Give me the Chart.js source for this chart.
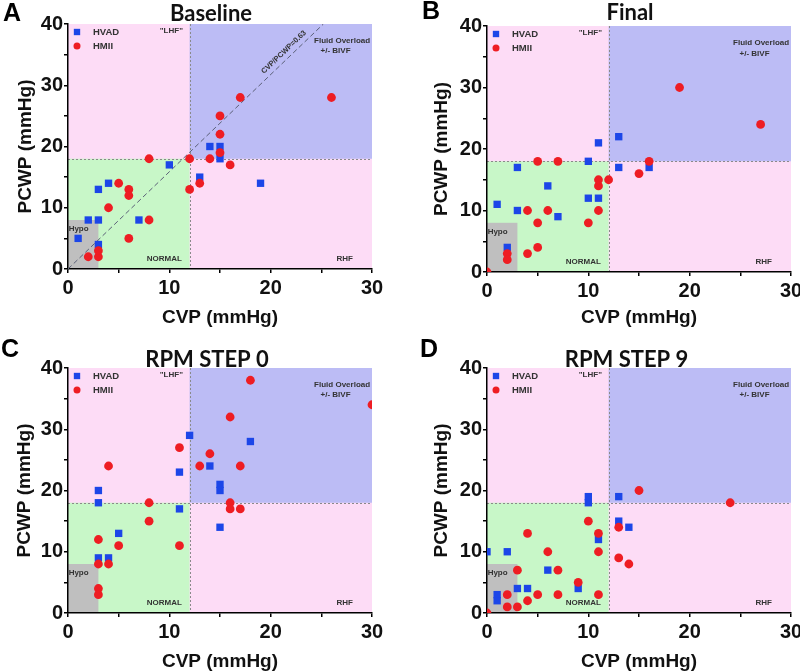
<!DOCTYPE html>
<html>
<head>
<meta charset="utf-8">
<script src="https://cdn.jsdelivr.net/npm/chart.js@4.4.1/dist/chart.umd.min.js"></script>
<style>
  html, body { margin: 0; padding: 0; background: #fff; }
  #wrap { position: relative; width: 800px; height: 672px; overflow: hidden; }
  #wrap canvas { position: absolute; }
</style>
</head>
<body>
<div id="wrap">
  <canvas id="panelA" width="400" height="336" style="left:0;top:0"></canvas>
  <canvas id="panelB" width="400" height="336" style="left:400px;top:0"></canvas>
  <canvas id="panelC" width="400" height="336" style="left:0;top:336px"></canvas>
  <canvas id="panelD" width="400" height="336" style="left:400px;top:336px"></canvas>
</div>
<script>
// [CVP, PCWP] pairs, mmHg
const baselineHvad = [[1,5],[2,8],[3,8],[3,4],[3,13],[4,14],[7,8],[10,17],[13,15],[14,20],[15,20],[15,18],[19,14]];
const baselineHmii = [[2,2],[3,2],[3,3],[4,10],[5,14],[6,13],[6,12],[6,5],[8,18],[8,8],[12,18],[12,13],[13,14],[14,18],[15,19],[15,22],[15,25],[16,17],[17,28],[26,28]];

const finalHvad = [[1,11],[2,4],[3,10],[3,17],[6,14],[7,9],[10,18],[10,12],[11,21],[11,12],[13,22],[13,17],[16,17]];
const finalHmii = [[0,0],[2,3],[2,2],[4,3],[4,10],[5,4],[5,8],[5,18],[6,10],[7,18],[10,8],[11,10],[11,14],[11,15],[12,15],[15,16],[16,18],[19,30],[27,24]];

const step0Hvad = [[3,20],[3,18],[3,9],[4,9],[5,13],[11,23],[11,17],[12,29],[14,24],[15,21],[15,20],[15,14],[18,28]];
const step0Hmii = [[3,12],[3,8],[3,4],[3,3],[4,24],[4,8],[5,11],[8,18],[8,15],[11,27],[11,11],[13,24],[14,26],[16,32],[16,18],[16,17],[17,24],[17,17],[18,38],[30,34]];

const step9Hvad = [[0,10],[2,10],[1,3],[1,2],[3,4],[4,4],[6,7],[9,4],[10,19],[10,18],[11,12],[13,19],[13,15],[14,14]];
const step9Hmii = [[0,0],[2,3],[2,1],[3,7],[3,1],[4,13],[4,2],[5,3],[6,10],[7,7],[7,3],[9,5],[10,15],[11,13],[11,10],[11,3],[13,14],[13,9],[14,8],[15,20],[24,18]];

// CVP/PCWP = 0.63 reference line (baseline panel)
const ratioLine = [[0,0],[25.2,40]];

// axis ranges and zone limits
const cvpMax = 30, pcwpMax = 40;
const cvpLimit = 12, pcwpLimit = 18;
const hypoCvp = 3, hypoPcwp = 8;

const BLUE = '#1c46e8';
const RED = '#ee1d23';
const FONT = "'Liberation Sans', Arial, sans-serif";

const toPoints = arr => arr.map(p => ({ x: p[0], y: p[1] }));

const zonePlugin = {
  id: 'zones',
  beforeDraw(chart) {
    const { ctx, chartArea: a, scales: { x, y } } = chart;
    ctx.save();
    ctx.beginPath();
    ctx.rect(a.left, a.top, a.right - a.left, a.bottom - a.top);
    ctx.clip();
    const box = (x0, x1, y0, y1, color) => {
      const l = x.getPixelForValue(x0), r = x.getPixelForValue(x1);
      const t = y.getPixelForValue(y1), b = y.getPixelForValue(y0);
      ctx.fillStyle = color;
      ctx.fillRect(l, t, r - l, b - t);
    };
    box(0, cvpMax, 0, pcwpMax, '#fddcf6');
    box(cvpLimit, cvpMax, pcwpLimit, pcwpMax, '#bcbcf5');
    box(0, cvpLimit, 0, pcwpLimit, '#c8f7c8');
    box(0, hypoCvp, 0, hypoPcwp, '#bfbfbf');

    // dotted dividers
    ctx.strokeStyle = '#8a8a8a';
    ctx.lineWidth = 1;
    ctx.setLineDash([2, 2]);
    const xv = Math.round(x.getPixelForValue(cvpLimit)) + 0.5;
    const yh = Math.round(y.getPixelForValue(pcwpLimit)) + 0.5;
    ctx.beginPath();
    ctx.moveTo(xv, a.top); ctx.lineTo(xv, a.bottom);
    ctx.moveTo(a.left, yh); ctx.lineTo(a.right, yh);
    ctx.stroke();
    ctx.restore();
  },
  beforeDatasetsDraw(chart, args, opts) {
    const { ctx, scales: { x, y } } = chart;
    const px = v => x.getPixelForValue(v), py = v => y.getPixelForValue(v);
    ctx.save();
    ctx.fillStyle = '#333';
    ctx.font = 'bold 8px ' + FONT;
    ctx.textAlign = 'center';
    ctx.textBaseline = 'middle';
    ctx.fillText('"LHF"', px(10.2), py(38.9));
    ctx.fillText('Fluid Overload', px(27.05), py(37.3));
    ctx.fillText('+/- BIVF', px(26.4), py(35.55));
    ctx.fillText('Hypo', px(1.05), py(6.6));
    ctx.fillText('NORMAL', px(9.5), py(1.6));
    ctx.fillText('RHF', px(27.3), py(1.6));
    if (opts.ratioLabel) {
      const x0 = px(ratioLine[0][0]), y0 = py(ratioLine[0][1]);
      const x1 = px(ratioLine[1][0]), y1 = py(ratioLine[1][1]);
      ctx.translate(px(21.3), py(35.4));
      ctx.rotate(Math.atan2(y1 - y0, x1 - x0));
      ctx.font = 'bold 7.5px ' + FONT;
      ctx.fillText(opts.ratioLabel, 0, 0);
    }
    ctx.restore();
  },
  afterDraw(chart, args, opts) {
    const { ctx, chartArea: a } = chart;
    ctx.save();
    // panel letter and title
    ctx.fillStyle = '#000';
    ctx.textAlign = 'center';
    ctx.textBaseline = 'middle';
    ctx.font = 'bold 25px ' + FONT;
    ctx.fillText(opts.letter, opts.letterX, opts.letterY);
    ctx.fillStyle = '#111';
    ctx.font = "bold 22px Lato, 'Open Sans', sans-serif";
    ctx.fillText(opts.title, opts.titleX, opts.titleY);

    // legend inside plot, top left
    const items = chart.data.datasets.filter(d => d.label === 'HVAD' || d.label === 'HMII');
    ctx.textAlign = 'left';
    ctx.font = 'bold 9.5px ' + FONT;
    items.forEach((d, i) => {
      const cx = a.left + 9, cy = a.top + 8 + i * 14;
      ctx.fillStyle = d.pointBackgroundColor;
      Chart.helpers.drawPoint(ctx, {
        pointStyle: d.pointStyle,
        radius: d.pointStyle === 'rect' ? 4.5 : 3.5,
        borderWidth: 0,
        rotation: 0
      }, cx, cy);
      ctx.fillStyle = '#333';
      ctx.fillText(d.label, a.left + 25, cy + 0.5);
    });
    ctx.restore();
  }
};

function makePanel(id, hvad, hmii, p) {
  const datasets = [
    {
      label: 'HVAD',
      data: toPoints(hvad),
      pointStyle: 'rect',
      pointRadius: 5.2,
      pointBackgroundColor: BLUE,
      backgroundColor: BLUE,
      borderColor: BLUE,
      pointBorderWidth: 0,
      clip: 0,
      order: 2
    },
    {
      label: 'HMII',
      data: toPoints(hmii),
      pointStyle: 'circle',
      pointRadius: 4.4,
      pointBackgroundColor: RED,
      backgroundColor: RED,
      borderColor: RED,
      pointBorderWidth: 0,
      clip: 0,
      order: 1
    }
  ];
  if (p.ratioLabel) {
    datasets.push({
      type: 'line',
      label: 'ratio',
      data: toPoints(ratioLine),
      borderColor: '#5b6078',
      borderWidth: 1,
      borderDash: [5, 3],
      pointRadius: 0,
      fill: false,
      clip: 0,
      order: 3
    });
  }

  const tickFont = { family: FONT, size: 20, weight: 'bold' };
  const titleFont = { family: FONT, size: 19, weight: 'bold', lineHeight: 1 };

  new Chart(document.getElementById(id), {
    type: 'scatter',
    data: { datasets },
    plugins: [zonePlugin],
    options: {
      responsive: false,
      animation: false,
      events: [],
      layout: { padding: { left: 0, top: p.top, right: 400 - p.right, bottom: 0 } },
      plugins: {
        legend: { display: false },
        tooltip: { enabled: false },
        zones: p
      },
      scales: {
        x: {
          type: 'linear',
          min: 0,
          max: cvpMax,
          border: { display: true, color: '#000', width: 1.5 },
          grid: { drawOnChartArea: false, drawTicks: true, tickLength: 4, color: '#000', lineWidth: 1.5 },
          ticks: {
            stepSize: 5,
            padding: 3,
            color: '#111',
            font: tickFont,
            maxRotation: 0,
            autoSkip: false,
            callback: v => (v % 10 === 0 ? v : '')
          },
          title: {
            display: true,
            text: 'CVP (mmHg)',
            color: '#111',
            font: titleFont,
            padding: { top: 0, bottom: p.xTitlePad }
          },
          afterFit(scale) {
            scale.height = 336 - p.bottom;
            scale.paddingLeft = 0;
            scale.paddingRight = 0;
          }
        },
        y: {
          type: 'linear',
          min: 0,
          max: pcwpMax,
          border: { display: true, color: '#000', width: 1.5 },
          grid: { drawOnChartArea: false, drawTicks: true, tickLength: 4, color: '#000', lineWidth: 1.5 },
          ticks: {
            stepSize: 5,
            padding: 1,
            color: '#111',
            font: tickFont,
            autoSkip: false,
            callback: v => (v % 10 === 0 ? v : '')
          },
          title: {
            display: true,
            text: 'PCWP (mmHg)',
            color: '#111',
            font: titleFont,
            padding: { top: p.yTitlePad, bottom: 0 }
          },
          afterFit(scale) {
            scale.width = p.left;
            scale.paddingTop = 0;
            scale.paddingBottom = 0;
          }
        }
      }
    }
  });
}

makePanel('panelA', baselineHvad, baselineHmii, {
  left: 68, top: 24, right: 372, bottom: 269,
  xTitlePad: 8.5, yTitlePad: 16.5,
  letter: 'A', letterX: 12, letterY: 14,
  title: 'Baseline', titleX: 211, titleY: 14,
  ratioLabel: 'CVP/PCWP=0.63'
});
makePanel('panelB', finalHvad, finalHmii, {
  left: 87, top: 26, right: 391, bottom: 272,
  xTitlePad: 8.5, yTitlePad: 32,
  letter: 'B', letterX: 31, letterY: 12,
  title: 'Final', titleX: 230, titleY: 13
});
makePanel('panelC', step0Hvad, step0Hmii, {
  left: 68, top: 32, right: 372, bottom: 277,
  xTitlePad: 0.5, yTitlePad: 15.5,
  letter: 'C', letterX: 10, letterY: 14.5,
  title: 'RPM STEP 0', titleX: 207, titleY: 23.5
});
makePanel('panelD', step9Hvad, step9Hmii, {
  left: 87, top: 32, right: 391, bottom: 277,
  xTitlePad: 0.5, yTitlePad: 32,
  letter: 'D', letterX: 29, letterY: 14.5,
  title: 'RPM STEP 9', titleX: 226.5, titleY: 24
});
</script>
</body>
</html>
